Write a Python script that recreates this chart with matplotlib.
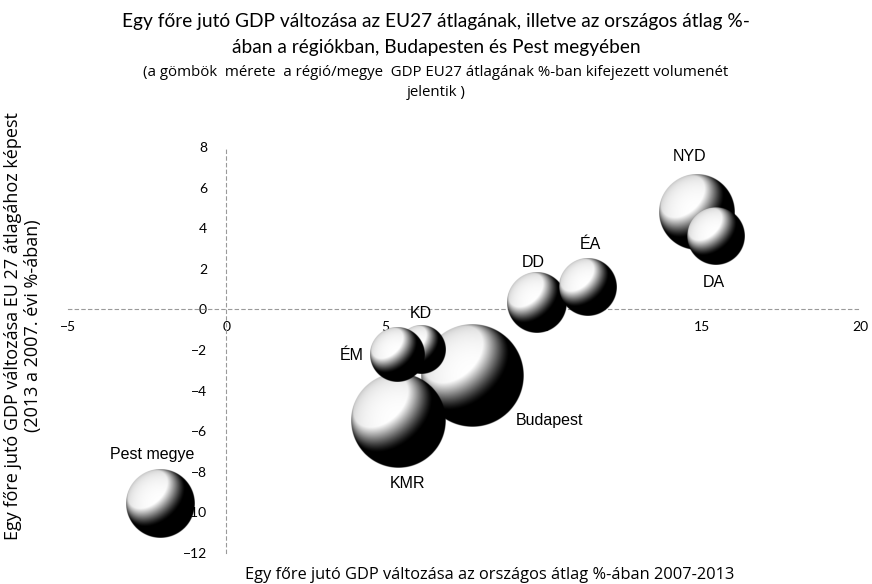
import numpy as np
import matplotlib
matplotlib.use("Agg")
import matplotlib.pyplot as plt

# bubble data (drawing order: first = back)
regions = ["Budapest", "KMR", "KD", "ÉM", "NYD", "DA", "DD", "ÉA", "Pest megye"]
x_change = [7.78, 5.43, 6.15, 5.39, 14.83, 15.46, 9.81, 11.42, -2.08]   # % of national average
y_change = [-3.28, -5.5, -2.0, -2.27, 4.8, 3.6, 0.3, 1.08, -9.56]      # % of EU27 average
bubble_size = [26.5, 22.1, 6.0, 7.3, 14.1, 8.4, 9.0, 8.4, 11.6]       # GDP volume (relative)

x_ticks = [-5, 0, 5, 10, 15, 20]
y_ticks = [-12, -10, -8, -6, -4, -2, 0, 2, 4, 6, 8]

# label offsets in pixels (dx, dy) and alignment
label_pos = {
    "Budapest": (43, -45, "left"),
    "KMR": (9, -62, "center"),
    "KD": (0, 37, "center"),
    "ÉM": (-33, 0, "right"),
    "NYD": (-7, 55, "center"),
    "DA": (-2, -46, "center"),
    "DD": (-4, 41, "center"),
    "ÉA": (2, 43, "center"),
    "Pest megye": (-8, 49, "center"),
}


def sphere_image(n=300):
    # shaded sphere, light from upper left
    yy, xx = np.mgrid[-1:1:n * 1j, -1:1:n * 1j]
    rr = np.sqrt(xx ** 2 + yy ** 2)
    z = np.sqrt(np.clip(1 - rr ** 2, 0, 1))
    light = np.array([-0.5, -0.55, 0.67])
    light = light / np.linalg.norm(light)
    d = xx * light[0] + yy * light[1] + z * light[2]
    shade = np.clip((d - 0.25) / 0.5, 0, 1) ** 1.4
    shade = shade * (0.6 + 0.4 * z ** 0.4)
    alpha = np.clip((1 - rr) * n / 2, 0, 1)
    img = np.dstack([shade, shade, shade, alpha])
    return img


fig = plt.figure(figsize=(8.72, 5.84), dpi=100)
ax = fig.add_axes([68 / 872, 31 / 584, 792 / 872, 406 / 584])
ax.set_xlim(-5, 20)
ax.set_ylim(-12, 8)

ax_w = 792.0
ax_h = 406.0
px_x = ax_w / 25.0
px_y = ax_h / 20.0

for s in ["top", "right"]:
    ax.spines[s].set_visible(False)
ax.spines["left"].set_position(("data", 0))
ax.spines["bottom"].set_position(("data", 0))
for s in ["left", "bottom"]:
    ax.spines[s].set_color("#9a9a9a")
    ax.spines[s].set_linestyle((0, (3, 3)))
    ax.spines[s].set_linewidth(0.8)

ax.set_xticks(x_ticks)
ax.set_yticks(y_ticks)
ax.tick_params(axis="both", length=0, labelsize=10)
ax.tick_params(axis="y", pad=14)
ax.tick_params(axis="x", pad=8)
for lab in ax.get_xticklabels() + ax.get_yticklabels():
    lab.set_fontfamily("Lato")

sph = sphere_image()
for i, name in enumerate(regions):
    r = np.sqrt(bubble_size[i]) * 10.0
    hx = r / px_x
    hy = r / px_y
    ax.imshow(sph, extent=[x_change[i] - hx, x_change[i] + hx, y_change[i] - hy, y_change[i] + hy],
              aspect="auto", interpolation="bilinear", zorder=3 + i)
    dx, dy, ha = label_pos[name]
    ax.annotate(name, (x_change[i], y_change[i]), xytext=(dx * 0.72, dy * 0.72),
                textcoords="offset points", ha=ha, va="center", fontsize=11.5,
                fontfamily="Liberation Sans", zorder=20)

ax.set_xlim(-5, 20)
ax.set_ylim(-12, 8)

fig.text(0.5, 1 - 22 / 584, "Egy főre jutó GDP változása az EU27 átlagának, illetve az országos átlag %-",
         ha="center", va="center", fontsize=13.8, fontfamily="Lato")
fig.text(0.5, 1 - 47 / 584, "ában a régiókban, Budapesten és Pest megyében",
         ha="center", va="center", fontsize=13.8, fontfamily="Lato")
fig.text(0.5, 1 - 72 / 584, "(a gömbök  mérete  a régió/megye  GDP EU27 átlagának %-ban kifejezett volumenét",
         ha="center", va="center", fontsize=10.8, fontfamily="Open Sans")
fig.text(0.5, 1 - 92 / 584, "jelentik )",
         ha="center", va="center", fontsize=10.8, fontfamily="Open Sans")

fig.text(490 / 872, 1 - 575 / 584, "Egy főre jutó GDP változása az országos átlag %-ában 2007-2013",
         ha="center", va="center", fontsize=11.8, fontfamily="Open Sans")
fig.text(13 / 872, 1 - 326 / 584, "Egy főre jutó GDP változása EU 27 átlagához képest",
         ha="center", va="center", rotation=90, fontsize=13, fontfamily="Open Sans")
fig.text(33 / 872, 1 - 326 / 584, "(2013 a 2007. évi %-ában)",
         ha="center", va="center", rotation=90, fontsize=13, fontfamily="Open Sans")

fig.savefig("out.png", dpi=100)
